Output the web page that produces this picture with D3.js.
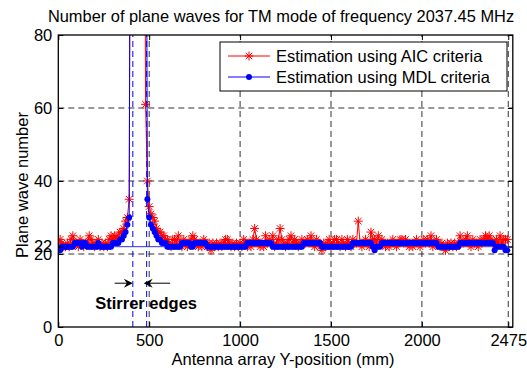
<!DOCTYPE html>
<html>
<head>
<meta charset="utf-8">
<script src="https://cdn.jsdelivr.net/npm/d3@7"></script>
<style>
  body { margin: 0; background: #fff; }
  text { font-family: Arial, "Liberation Sans", sans-serif; }
</style>
</head>
<body>
<div id="chart"></div>
<script>
// ---- data ----
const title = "Number of plane waves for TM mode of frequency 2037.45 MHz";
const xLabel = "Antenna array Y-position (mm)";
const yLabel = "Plane wave number";
const xTicks = [0, 500, 1000, 1500, 2000, 2475];
const yTicks = [0, 20, 22, 40, 60, 80];
const xGrid = [500, 1000, 1500, 2000, 2475];
const yGrid = [20, 40, 60];
const stirrerEdges = [410, 486];
const refLevel = 22;
const seriesNames = ["Estimation using AIC criteria", "Estimation using MDL criteria"];

// sampled every 10 mm, 0 .. 2470
const positions = d3.range(0, 2480, 10);
// values above 80 are off the chart (spikes between the stirrer edges)
const aic = [
  23,24,23,22,22,23,22,24,25,23,
  23,22,24,23,22,23,23,25,24,23,
  22,23,24,22,23,22,23,22,24,25,
  24,25,24,25,26,26,27,29,30,35,
  200,200,200,200,200,200,200,200,61,40,
  33,31,30,29,27,26,26,25,25,24,
  24,23,22,24,24,23,25,23,22,24,
  23,22,23,24,25,24,23,22,23,22,
  24,23,22,23,21,23,22,23,22,23,
  22,23,24,24,23,22,23,22,23,22,
  23,22,24,23,22,23,22,24,27,24,
  23,22,23,22,25,23,24,23,25,22,
  23,24,27,24,23,22,23,24,25,23,
  24,23,22,23,24,23,23,24,23,25,
  23,22,24,23,22,21,23,22,23,24,
  22,23,24,24,23,22,24,23,22,24,
  23,22,24,23,23,29,23,22,23,24,
  23,22,26,24,24,23,25,23,24,23,
  22,23,22,23,24,23,22,23,24,24,
  23,24,23,22,23,22,23,24,23,22,
  23,24,23,24,23,25,22,23,24,23,
  22,23,22,21,23,22,23,22,23,22,
  23,25,23,23,24,25,23,22,24,23,
  23,22,24,23,24,25,24,25,24,23,
  23,24,23,25,23,24,24,24
];
const mdl = [
  21,21,22,22,22,22,22,22,22,23,
  23,23,23,22,23,23,22,22,22,22,
  22,22,23,22,22,22,22,22,22,22,
  23,23,23,23,24,24,25,26,28,30,
  200,200,200,200,200,200,200,200,200,35,
  30,28,27,26,25,24,24,23,23,23,
  22,22,22,22,22,22,22,22,23,23,
  23,23,23,22,22,23,23,23,23,23,
  23,23,22,22,22,22,22,22,22,22,
  22,22,22,22,22,22,22,22,22,22,
  22,22,22,22,23,23,23,23,23,23,
  23,23,23,23,23,23,23,23,22,22,
  22,22,22,22,22,22,22,22,22,22,
  22,22,22,22,22,23,23,23,23,23,
  23,23,23,23,23,22,22,22,22,22,
  22,22,22,22,22,22,22,22,22,22,
  22,22,23,23,23,23,23,23,23,23,
  23,23,23,22,21,22,22,22,23,23,
  23,23,23,23,23,23,23,23,23,23,
  23,23,23,23,23,23,23,23,23,23,
  23,23,23,23,23,23,23,23,23,22,
  22,22,22,22,22,22,22,22,22,22,
  22,23,23,23,23,23,23,23,23,23,
  23,23,23,23,23,23,23,23,23,23,
  21,22,22,22,22,22,21,21
];

// ---- layout ----
const width = 527, height = 371;
const margin = {top: 35, right: 14.2, bottom: 44, left: 58.3};
const plotW = width - margin.left - margin.right;
const plotH = height - margin.top - margin.bottom;

const svg = d3.select("#chart").append("svg")
  .attr("width", width)
  .attr("height", height);

const x = d3.scaleLinear().domain([0, 2500]).range([margin.left, width - margin.right]);
const y = d3.scaleLinear().domain([0, 80]).range([height - margin.bottom, margin.top]);

svg.append("defs").append("clipPath").attr("id", "clip")
  .append("rect")
  .attr("x", margin.left).attr("y", margin.top)
  .attr("width", plotW).attr("height", plotH);

// grid
svg.append("g").selectAll("line").data(xGrid).enter().append("line")
  .attr("x1", d => x(d)).attr("x2", d => x(d))
  .attr("y1", y(0)).attr("y2", y(80))
  .attr("stroke", "#333").attr("stroke-dasharray", "6,4");
svg.append("g").selectAll("line").data(yGrid).enter().append("line")
  .attr("x1", x(0)).attr("x2", x(2500))
  .attr("y1", d => y(d)).attr("y2", d => y(d))
  .attr("stroke", "#333").attr("stroke-dasharray", "6,4");

// stirrer edges
svg.append("g").selectAll("line").data(stirrerEdges).enter().append("line")
  .attr("x1", d => x(d)).attr("x2", d => x(d))
  .attr("y1", y(0)).attr("y2", y(80))
  .attr("stroke", "#0000ff").attr("stroke-dasharray", "6,4");

// reference level line
svg.append("line")
  .attr("x1", x(0)).attr("x2", x(2500))
  .attr("y1", y(refLevel)).attr("y2", y(refLevel))
  .attr("stroke", "#3030e0").attr("stroke-width", 1);

const data = positions.map((p, i) => ({p: p, a: aic[i], m: mdl[i]}));
const plot = svg.append("g").attr("clip-path", "url(#clip)");

function star(s) {
  const a = s * 0.72;
  return `M${-s},0H${s}M0,${-s}V${s}M${-a},${-a}L${a},${a}M${-a},${a}L${a},${-a}`;
}

// AIC series
plot.append("path").datum(data)
  .attr("fill", "none").attr("stroke", "#ff0000").attr("stroke-width", 1)
  .attr("d", d3.line().x(d => x(d.p)).y(d => y(d.a)));
plot.append("g").selectAll("path").data(data).enter().append("path")
  .attr("transform", d => `translate(${x(d.p)},${y(d.a)})`)
  .attr("d", star(4.5))
  .attr("stroke", "#ff0000").attr("stroke-width", 1).attr("fill", "none");

// MDL series
plot.append("path").datum(data)
  .attr("fill", "none").attr("stroke", "#0000ff").attr("stroke-width", 1)
  .attr("d", d3.line().x(d => x(d.p)).y(d => y(d.m)));
plot.append("g").selectAll("circle").data(data).enter().append("circle")
  .attr("cx", d => x(d.p)).attr("cy", d => y(d.m)).attr("r", 3)
  .attr("fill", "#0000ff");

// axes
const fs = "16.5px";
const xAxis = svg.append("g").attr("transform", `translate(0,${y(0)})`)
  .call(d3.axisBottom(x).tickValues(xTicks).tickFormat(d3.format("d"))
    .tickSizeInner(-5).tickSizeOuter(0).tickPadding(7));
const xAxisTop = svg.append("g").attr("transform", `translate(0,${y(80)})`)
  .call(d3.axisTop(x).tickValues(xTicks).tickSizeInner(-5).tickSizeOuter(0).tickFormat(""));
const yAxis = svg.append("g").attr("transform", `translate(${x(0)},0)`)
  .call(d3.axisLeft(y).tickValues(yTicks).tickFormat(d3.format("d"))
    .tickSizeInner(-5).tickSizeOuter(0).tickPadding(6));
const yAxisRight = svg.append("g").attr("transform", `translate(${x(2500)},0)`)
  .call(d3.axisRight(y).tickValues(yTicks).tickSizeInner(-5).tickSizeOuter(0).tickFormat(""));
[xAxis, xAxisTop, yAxis, yAxisRight].forEach(g => {
  g.select(".domain").remove();
  g.selectAll(".tick line").attr("stroke", "#000");
  g.selectAll("text").attr("font-size", fs).attr("fill", "#000")
    .attr("font-family", "Arial, 'Liberation Sans', sans-serif");
});

// box
svg.append("rect")
  .attr("x", x(0)).attr("y", y(80))
  .attr("width", x(2500) - x(0)).attr("height", y(0) - y(80))
  .attr("fill", "none").attr("stroke", "#000").attr("stroke-width", 1.3);

// labels
svg.append("text").attr("x", 281).attr("y", 22).attr("text-anchor", "middle")
  .attr("font-size", "16.4px").text(title);
svg.append("text").attr("x", 283).attr("y", 365).attr("text-anchor", "middle")
  .attr("font-size", fs).text(xLabel);
svg.append("text").attr("transform", `translate(28,${(y(0) + y(80)) / 2 + 4}) rotate(-90)`)
  .attr("text-anchor", "middle").attr("font-size", fs).text(yLabel);

// annotation: stirrer edges
const ay = y(12);
function arrowHead(tipX, dir) {
  // dir = +1 points right, -1 points left
  const L = 9, W = 4.5, n = 6;
  return `M${tipX},${ay}L${tipX - dir * L},${ay - W}L${tipX - dir * n},${ay}L${tipX - dir * L},${ay + W}Z`;
}
svg.append("line").attr("x1", x(310)).attr("x2", x(stirrerEdges[0]) - 2)
  .attr("y1", ay).attr("y2", ay).attr("stroke", "#000");
svg.append("path").attr("d", arrowHead(x(stirrerEdges[0]), 1)).attr("fill", "#000");
svg.append("line").attr("x1", x(615)).attr("x2", x(stirrerEdges[1]) - 1)
  .attr("y1", ay).attr("y2", ay).attr("stroke", "#000");
svg.append("path").attr("d", arrowHead(x(stirrerEdges[1]) - 3, -1)).attr("fill", "#000");
svg.append("text").attr("x", x(483)).attr("y", y(5.0)).attr("text-anchor", "middle")
  .attr("font-size", "16.5px").attr("font-weight", "bold").text("Stirrer edges");

// legend
const lg = svg.append("g");
lg.append("rect").attr("x", 220).attr("y", 42).attr("width", 287).attr("height", 49)
  .attr("fill", "#fff").attr("stroke", "#000").attr("stroke-width", 1);
const rows = [
  {name: seriesNames[0], color: "#ff0000", kind: "star", yy: 56},
  {name: seriesNames[1], color: "#0000ff", kind: "dot", yy: 77}
];
rows.forEach(r => {
  lg.append("line").attr("x1", 228).attr("x2", 270).attr("y1", r.yy).attr("y2", r.yy)
    .attr("stroke", r.color);
  if (r.kind === "star") {
    lg.append("path").attr("transform", `translate(249,${r.yy})`).attr("d", star(4.5))
      .attr("stroke", r.color).attr("fill", "none");
  } else {
    lg.append("circle").attr("cx", 249).attr("cy", r.yy).attr("r", 3).attr("fill", r.color);
  }
  lg.append("text").attr("x", 276).attr("y", r.yy + 6).attr("font-size", fs).text(r.name);
});
</script>
</body>
</html>
